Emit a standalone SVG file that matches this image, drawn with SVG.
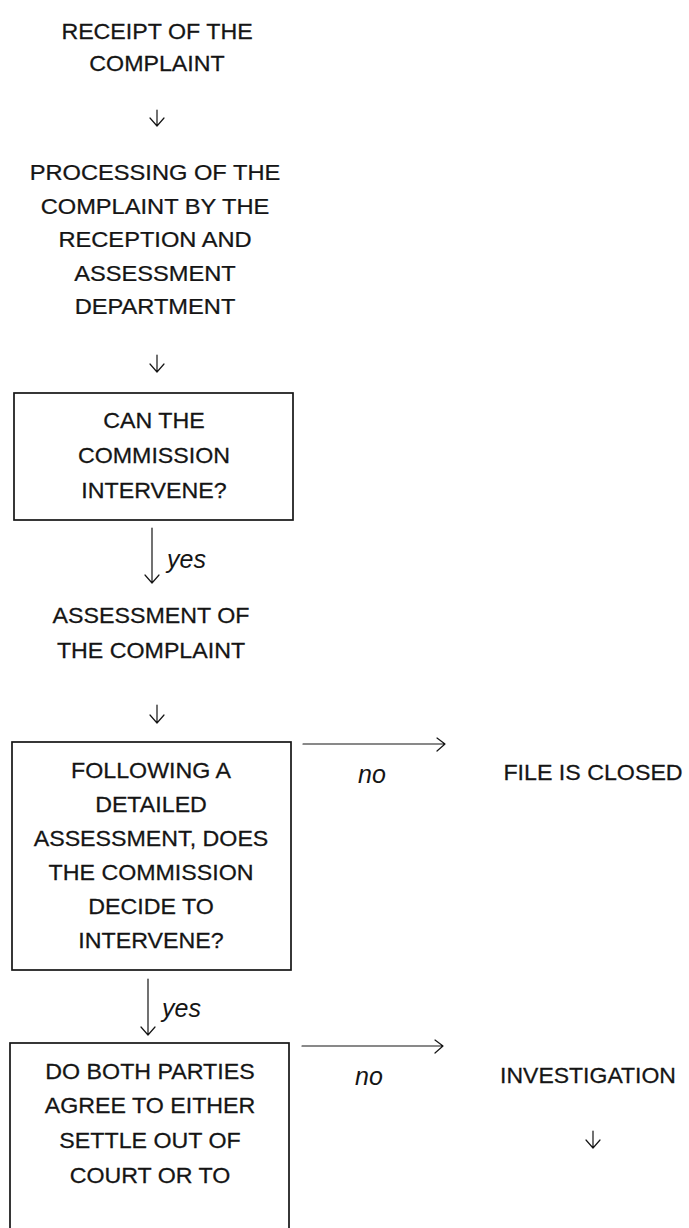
<svg xmlns="http://www.w3.org/2000/svg" width="689" height="1228" viewBox="0 0 689 1228">
<style>
.t{font-family:"Liberation Sans",Arial,sans-serif;font-size:21.5px;fill:#151515;stroke:#151515;stroke-width:0.25;text-anchor:middle}
.i{font-family:"Liberation Sans",Arial,sans-serif;font-size:25px;font-style:italic;fill:#151515}
.box{fill:none;stroke:#151515;stroke-width:1.7}
.c{fill:none;stroke:#151515;stroke-width:1.2;stroke-linecap:round;stroke-linejoin:round}
</style>
<rect width="689" height="1228" fill="#fff"/>
<g id="n-receipt">
<text class="t" transform="translate(157 0) scale(1.08 1)"><tspan x="0" y="39">RECEIPT OF THE</tspan><tspan x="0" y="71">COMPLAINT</tspan></text>
</g>
<g id="n-processing">
<text class="t" transform="translate(155 0) scale(1.1 1)"><tspan x="0" y="180">PROCESSING OF THE</tspan><tspan x="0" y="214">COMPLAINT BY THE</tspan><tspan x="0" y="247">RECEPTION AND</tspan><tspan x="0" y="281">ASSESSMENT</tspan><tspan x="0" y="314">DEPARTMENT</tspan></text>
</g>
<g id="n-can">
<rect class="box" x="14" y="393" width="279" height="127"/>
<text class="t" transform="translate(154 0) scale(1.08 1)"><tspan x="0" y="428">CAN THE</tspan><tspan x="0" y="463">COMMISSION</tspan><tspan x="0" y="498">INTERVENE?</tspan></text>
</g>
<g id="n-assessment">
<text class="t" transform="translate(151 0) scale(1.08 1)"><tspan x="0" y="623">ASSESSMENT OF</tspan><tspan x="0" y="658">THE COMPLAINT</tspan></text>
</g>
<g id="n-following">
<rect class="box" x="12" y="742" width="279" height="228"/>
<text class="t" transform="translate(151 0) scale(1.08 1)"><tspan x="0" y="778">FOLLOWING A</tspan><tspan x="0" y="812">DETAILED</tspan><tspan x="0" y="846">ASSESSMENT, DOES</tspan><tspan x="0" y="880">THE COMMISSION</tspan><tspan x="0" y="914">DECIDE TO</tspan><tspan x="0" y="948">INTERVENE?</tspan></text>
</g>
<g id="n-parties">
<rect class="box" x="10" y="1043" width="279" height="200"/>
<text class="t" transform="translate(150 0) scale(1.08 1)"><tspan x="0" y="1079">DO BOTH PARTIES</tspan><tspan x="0" y="1113">AGREE TO EITHER</tspan><tspan x="0" y="1148">SETTLE OUT OF</tspan><tspan x="0" y="1183">COURT OR TO</tspan></text>
</g>
<g id="n-closed">
<text class="t" transform="translate(593 0) scale(1.08 1)"><tspan x="0" y="780">FILE IS CLOSED</tspan></text>
</g>
<g id="n-investigation">
<text class="t" transform="translate(588 0) scale(1.07 1)"><tspan x="0" y="1083">INVESTIGATION</tspan></text>
</g>
<g id="connectors">
<path class="c" d="M157 110V126M150 118L157 126L164 118"/>
<path class="c" d="M157 355V372M150 364L157 372L164 364"/>
<path class="c" d="M152 528V583M145 575L152 583L159 575"/>
<text class="i" x="167" y="568">yes</text>
<path class="c" d="M157 705V723M150 715L157 723L164 715"/>
<path class="c" d="M148 979V1035M141 1027L148 1035L155 1027"/>
<text class="i" x="162" y="1017">yes</text>
<path class="c" d="M303 744H445M437 738L445 744L437 751"/>
<text class="i" x="358" y="783">no</text>
<path class="c" d="M302 1046H443M435 1040L443 1046L435 1053"/>
<text class="i" x="355" y="1085">no</text>
<path class="c" d="M593 1131V1148M586 1140L593 1148L600 1140"/>
</g>
</svg>
